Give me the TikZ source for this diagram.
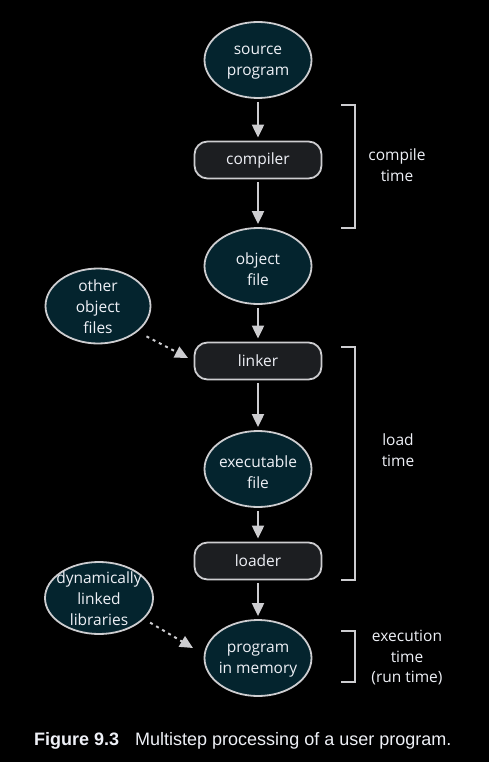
\documentclass[tikz,border=0pt]{standalone}
\usepackage{fontspec}
\setmainfont{Liberation Sans}
\newfontfamily\nodefont{Open Sans}
\usetikzlibrary{shapes.geometric,arrows.meta}
\definecolor{ellfill}{RGB}{4,36,46}
\definecolor{boxfill}{RGB}{28,30,33}
\definecolor{edge}{RGB}{205,205,208}
\definecolor{txt}{RGB}{238,240,246}
\tikzset{
  ell/.style={ellipse, draw=edge, line width=1.8pt, fill=ellfill, minimum width=107pt, minimum height=76pt, inner sep=0pt},
  etext/.style={align=center, text=txt, inner sep=0pt, yshift=-3pt, font=\nodefont\fontsize{15.5}{21}\selectfont},
  stage/.style={rectangle, rounded corners=13pt, draw=edge, line width=1.8pt, fill=boxfill, minimum width=127pt, minimum height=37pt, inner sep=0pt, text=txt, font=\nodefont\fontsize{15.5}{21}\selectfont},
  arr/.style={draw=edge, line width=2pt, shorten <=3pt, shorten >=3pt, -{Triangle[length=13pt,width=12pt]}},
  darr/.style={draw=edge, line width=2pt, dash pattern=on 3pt off 4pt, -{Triangle[length=13pt,width=12pt]}},
  brk/.style={draw=edge, line width=1.8pt},
  lbl/.style={align=center, text=txt, font=\nodefont\fontsize{15.5}{20.5}\selectfont},
}
\begin{document}
\begin{tikzpicture}[x=1pt,y=-1pt]
\fill[black] (0,0) rectangle (489,762);
\useasboundingbox (0,0) rectangle (489,762);
\node[ell, label={[etext]center:source\\program}] (src) at (258,60) {};
\node[stage] (comp) at (258,160) {compiler};
\node[ell, label={[etext]center:object\\file}] (obj) at (258,266) {};
\node[stage] (link) at (258,361) {linker};
\node[ell, label={[etext]center:executable\\file}] (exe) at (258,469) {};
\node[stage] (load) at (258,561) {loader};
\node[ell, label={[etext]center:program\\in memory}] (mem) at (258,658) {};
\node[ell, minimum width=105pt, minimum height=75pt, label={[etext, yshift=2pt]center:other\\object\\files}] (oth) at (98,306) {};
\node[ell, minimum width=108pt, minimum height=72pt, label={[etext, yshift=2pt]center:dynamically\\linked\\libraries}] (dyn) at (99,598) {};
\draw[arr] (src) -- (comp);
\draw[arr] (comp) -- (obj);
\draw[arr] (obj) -- (link);
\draw[arr] (link) -- (exe);
\draw[arr] (exe) -- (load);
\draw[arr] (load) -- (mem);
\coordinate (l1) at (188,358);
\coordinate (m1) at (193,648);
\draw[darr, shorten <=10pt] (oth.-33) -- (l1);
\draw[darr, shorten <=7pt] (dyn.-25) -- (m1);
\draw[brk] (341,105) -- (355,105) -- (355,228) -- (341,228);
\draw[brk] (341,347) -- (355,347) -- (355,580) -- (341,580);
\draw[brk] (341,631) -- (355,631) -- (355,682) -- (341,682);
\node[lbl] (ct) at (397,165) {compile\\time};
\node[lbl] (lt) at (398,450) {load\\time};
\node[lbl] (et) at (407,658) {execution\\time\\(run time)};
\node[text=txt, anchor=west, font=\fontsize{18}{20}\selectfont, inner sep=0pt] (cap) at (34,741) {\textbf{Figure 9.3}\hspace{16pt}Multistep processing of a user program.};
\end{tikzpicture}
\end{document}
